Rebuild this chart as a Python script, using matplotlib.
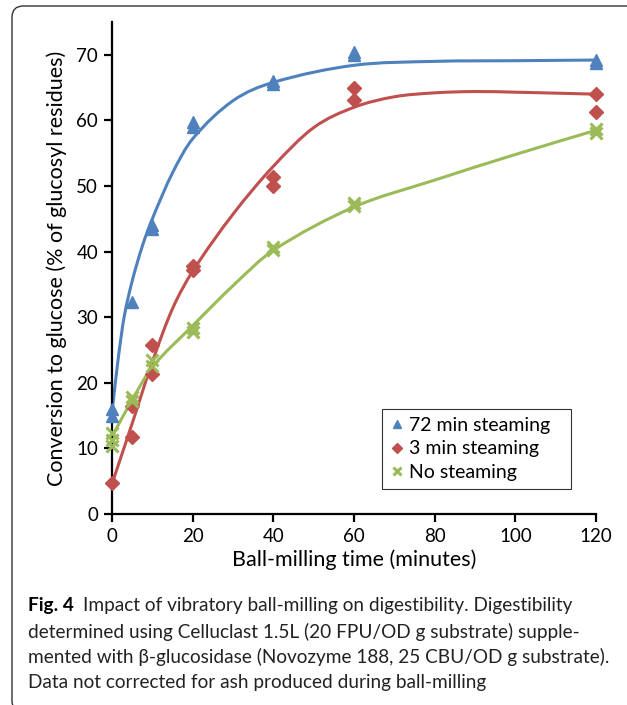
import matplotlib
matplotlib.use("Agg")
import matplotlib.pyplot as plt
from matplotlib.path import Path
from matplotlib.patches import PathPatch, FancyBboxPatch
import numpy as np

# ---------------- data ----------------
x72 = [0, 0, 5, 10, 10, 20, 20, 40, 40, 60, 60, 120, 120]
y72 = [16.0, 15.0, 32.3, 44.0, 43.5, 59.8, 59.0, 66.0, 65.5, 70.5, 70.0, 69.2, 68.8]

x3 = [0, 5, 5, 10, 10, 20, 20, 40, 40, 60, 60, 120, 120]
y3 = [4.7, 11.8, 16.5, 25.8, 21.3, 37.8, 37.2, 51.4, 50.0, 64.9, 63.1, 64.1, 61.3]

x0 = [0, 0, 0, 5, 5, 10, 10, 20, 20, 40, 40, 60, 60, 120, 120]
y0 = [12.3, 11.3, 10.3, 17.8, 17.2, 23.5, 22.6, 28.4, 27.8, 40.7, 40.3, 47.4, 46.9, 58.7, 58.1]

# smoothed trend lines
tx72 = [0, 1.5, 3, 5, 7.5, 10, 15, 20, 30, 40, 60, 80, 100, 120]
ty72 = [15.5, 23.5, 30.0, 35.5, 40.8, 45.0, 52.0, 57.2, 63.0, 65.8, 68.4, 69.0, 69.1, 69.2]

tx3 = [0, 5, 10, 15, 20, 30, 40, 50, 60, 70, 80, 90, 100, 120]
ty3 = [4.6, 13.8, 23.2, 31.3, 37.0, 45.7, 53.0, 58.9, 62.0, 63.6, 64.2, 64.4, 64.3, 64.0]

tx0 = [0, 5, 10, 20, 30, 40, 60, 80, 100, 120]
ty0 = [11.8, 17.4, 22.4, 28.7, 34.8, 40.2, 46.8, 50.9, 54.8, 58.5]

labels = ["72 min steaming", "3 min steaming", "No steaming"]
xticks = [0, 20, 40, 60, 80, 100, 120]
yticks = [0, 10, 20, 30, 40, 50, 60, 70]

c_blue = "#4F81BD"
c_red = "#C0504D"
c_green = "#9BBB59"

FONT = ["Lato", "DejaVu Sans"]
plt.rcParams["font.family"] = FONT

W, H = 627, 705
fig = plt.figure(figsize=(W / 100, H / 100), dpi=100)

def fx(px):
    return px / W

def fy(py):
    return 1 - py / H

ax = fig.add_axes([fx(112), fy(514), fx(596) - fx(112), fy(22) - fy(514)])
ax.set_xlim(0, 120)
ax.set_ylim(0, 75)
for s in ["top", "right"]:
    ax.spines[s].set_visible(False)
for s in ["left", "bottom"]:
    ax.spines[s].set_linewidth(1.6)
    ax.spines[s].set_color("black")
ax.set_xticks(xticks)
ax.set_yticks(yticks)
ax.tick_params(direction="out", length=6, width=1.6, labelsize=13.5, pad=4)


def smooth_path(xs, ys):
    xs = np.asarray(xs, float)
    ys = np.asarray(ys, float)
    n = len(xs)
    m = np.zeros(n)
    for i in range(n):
        if i == 0:
            m[i] = (ys[1] - ys[0]) / (xs[1] - xs[0])
        elif i == n - 1:
            m[i] = (ys[-1] - ys[-2]) / (xs[-1] - xs[-2])
        else:
            m[i] = (ys[i + 1] - ys[i - 1]) / (xs[i + 1] - xs[i - 1])
    verts = [(xs[0], ys[0])]
    codes = [Path.MOVETO]
    for i in range(n - 1):
        dx = xs[i + 1] - xs[i]
        verts += [(xs[i] + dx / 3, ys[i] + m[i] * dx / 3),
                  (xs[i + 1] - dx / 3, ys[i + 1] - m[i + 1] * dx / 3),
                  (xs[i + 1], ys[i + 1])]
        codes += [Path.CURVE4] * 3
    return Path(verts, codes)


for tx, ty, c in [(tx72, ty72, c_blue), (tx3, ty3, c_red), (tx0, ty0, c_green)]:
    ax.add_patch(PathPatch(smooth_path(tx, ty), fill=False, edgecolor=c, lw=2.2,
                           capstyle="round", clip_on=False, zorder=2))

h1, = ax.plot(x72, y72, ls="none", marker="^", ms=9, color=c_blue, clip_on=False, zorder=3)
h2, = ax.plot(x3, y3, ls="none", marker="D", ms=7, color=c_red, clip_on=False, zorder=3)
h3, = ax.plot(x0, y0, ls="none", marker="x", ms=9, mew=2.2, color=c_green, clip_on=False, zorder=3)

ax.set_xlabel("Ball-milling time (minutes)", fontsize=15.5, labelpad=3)
ax.set_ylabel("Conversion to glucose (% of glucosyl residues)", fontsize=15.5, labelpad=7)

leg = ax.legend([h1, h2, h3], labels, loc="lower left",
                bbox_to_anchor=((382 - 112) / 484, (514 - 489) / 492,
                                (571 - 382) / 484, (489 - 407) / 492),
                mode="expand", fontsize=14, frameon=True, fancybox=False,
                handlelength=0.7, handletextpad=0.3, borderpad=0.4,
                labelspacing=0.35, markerscale=0.7, borderaxespad=0)
leg.get_frame().set_edgecolor("black")
leg.get_frame().set_linewidth(0.8)

# frame around the figure
frame = FancyBboxPatch((fx(12), fy(712)), fx(700), fy(6) - fy(712),
                       boxstyle="round,pad=0,rounding_size=0.018",
                       transform=fig.transFigure, fill=False,
                       edgecolor="#333333", lw=1.0, clip_on=False,
                       mutation_aspect=W / H)
fig.patches.append(frame)

# caption
cap_font = ["Lato", "DejaVu Sans"]
cap_size = 13.7
fig.canvas.draw()
r = fig.canvas.get_renderer()
t_bold = fig.text(fx(28), fy(606), "Fig. 4", fontsize=cap_size, fontweight="bold",
                  family=cap_font, va="center", ha="left")
bb = t_bold.get_window_extent(renderer=r)
x_after = (bb.x1 + 9) / W
fig.text(x_after, fy(606), "Impact of vibratory ball-milling on digestibility. Digestibility",
         fontsize=cap_size, family=cap_font, va="center", ha="left", color="#222222")
cap_lines = [
    "determined using Celluclast 1.5L (20 FPU/OD g substrate) supple-",
    "mented with \u03b2-glucosidase (Novozyme 188, 25 CBU/OD g substrate).",
    "Data not corrected for ash produced during ball-milling",
]
for i, line in enumerate(cap_lines):
    fig.text(fx(28), fy(631.5 + 25.5 * i), line, fontsize=cap_size, family=cap_font,
             va="center", ha="left", color="#222222")

fig.savefig("out.png", dpi=100)
